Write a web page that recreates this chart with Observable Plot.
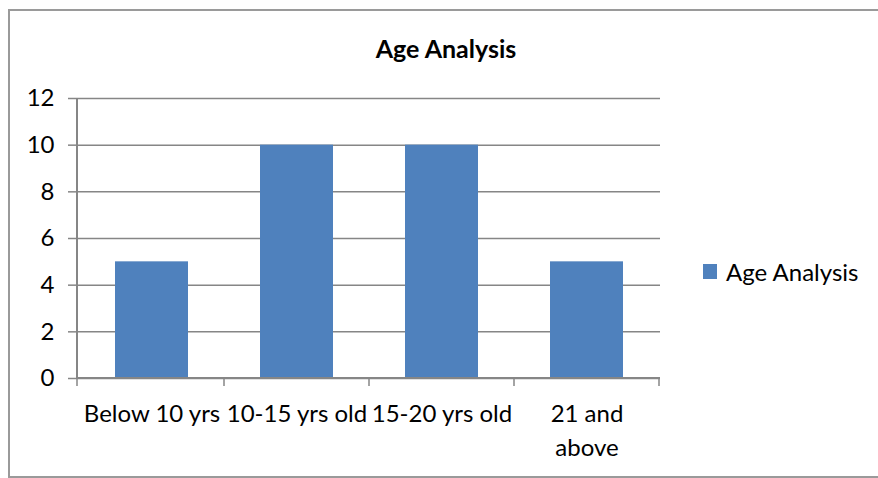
<!DOCTYPE html>
<html>
<head>
<meta charset="utf-8">
<script src="https://cdn.jsdelivr.net/npm/d3@7"></script>
<script src="https://cdn.jsdelivr.net/npm/@observablehq/plot@0.6"></script>
<style>
  html, body { margin: 0; padding: 0; background: #fff; overflow: hidden; }
  #chart { position: relative; width: 878px; height: 478px; overflow: hidden; font-family: Lato, "Open Sans", sans-serif; }
  #frame { position: absolute; left: 8px; top: 9px; width: 880px; height: 469px; border: 2px solid #9a9a9a; box-sizing: border-box; pointer-events: none; }
  #title { position: absolute; left: 0; width: 892px; top: 33px; text-align: center; font-weight: bold; font-size: 25px; color: #000; }
  #legend { position: absolute; left: 703px; top: 257px; display: flex; align-items: center; font-size: 24px; color: #000; }
  #legend span.sw { width: 14px; height: 15px; background: #4F81BD; margin-right: 9px; }
  svg { position: absolute; left: 0; top: 0; }
</style>
</head>
<body>
<div id="chart">
  <div id="title">Age Analysis</div>
  <div id="legend"><span class="sw"></span><span>Age Analysis</span></div>
  <div id="frame"></div>
</div>
<script>
// Survey responses grouped by age band
const categories = ["Below 10 yrs", "10-15 yrs old", "15-20 yrs old", "21 and\nabove"];
const counts = [5, 10, 10, 5];
const yTicks = [0, 2, 4, 6, 8, 10, 12];

const rows = categories.map((c, i) => ({category: c, count: counts[i]}));
const axisColor = "#868686";

// Axis lines plus category-boundary tick marks, drawn from the x band scale
function axisFrame(index, scales, values, dims) {
  const {x} = scales;
  const step = x.step ? x.step() : x.bandwidth() * 2;
  const half = (step - x.bandwidth()) / 2;
  const left = dims.marginLeft, right = dims.width - dims.marginRight;
  const top = dims.marginTop, bottom = dims.height - dims.marginBottom;
  const g = d3.create("svg:g").attr("stroke", axisColor).attr("fill", "none");
  g.append("line").attr("x1", left).attr("x2", left).attr("y1", top).attr("y2", bottom).attr("stroke-width", 2);
  g.append("line").attr("x1", left).attr("x2", right).attr("y1", bottom).attr("y2", bottom).attr("stroke-width", 2);
  const bounds = [left, ...categories.map(c => x(c) + x.bandwidth() + half)];
  for (const bx of bounds) {
    g.append("line").attr("x1", bx).attr("x2", bx).attr("y1", bottom).attr("y2", bottom + 8).attr("stroke-width", 1.5);
  }
  return g.node();
}

const chart = Plot.plot({
  width: 878,
  height: 478,
  marginLeft: 77,
  marginRight: 218,
  marginTop: 98,
  marginBottom: 100,
  style: {fontFamily: "Lato, 'Open Sans', sans-serif", fontSize: "24px", color: "#000", background: "transparent"},
  x: {domain: categories, paddingInner: 0.5, paddingOuter: 0.25, align: 0.5},
  y: {domain: [0, 12]},
  marks: [
    Plot.gridY(yTicks, {stroke: axisColor, strokeOpacity: 1, strokeWidth: 1.5}),
    Plot.barY(rows, {x: "category", y: "count", fill: "#4F81BD"}),
    Plot.axisY(yTicks, {tickSize: 9, stroke: axisColor, strokeWidth: 1.5, tickPadding: 14, label: null, fill: "#000", fontSize: 24}),
    axisFrame,
    Plot.axisX({tickSize: 0, tickPadding: 20, label: null, fill: "#000", fontSize: 24, lineHeight: 1.4})
  ]
});
document.getElementById("chart").prepend(chart);
</script>
</body>
</html>
